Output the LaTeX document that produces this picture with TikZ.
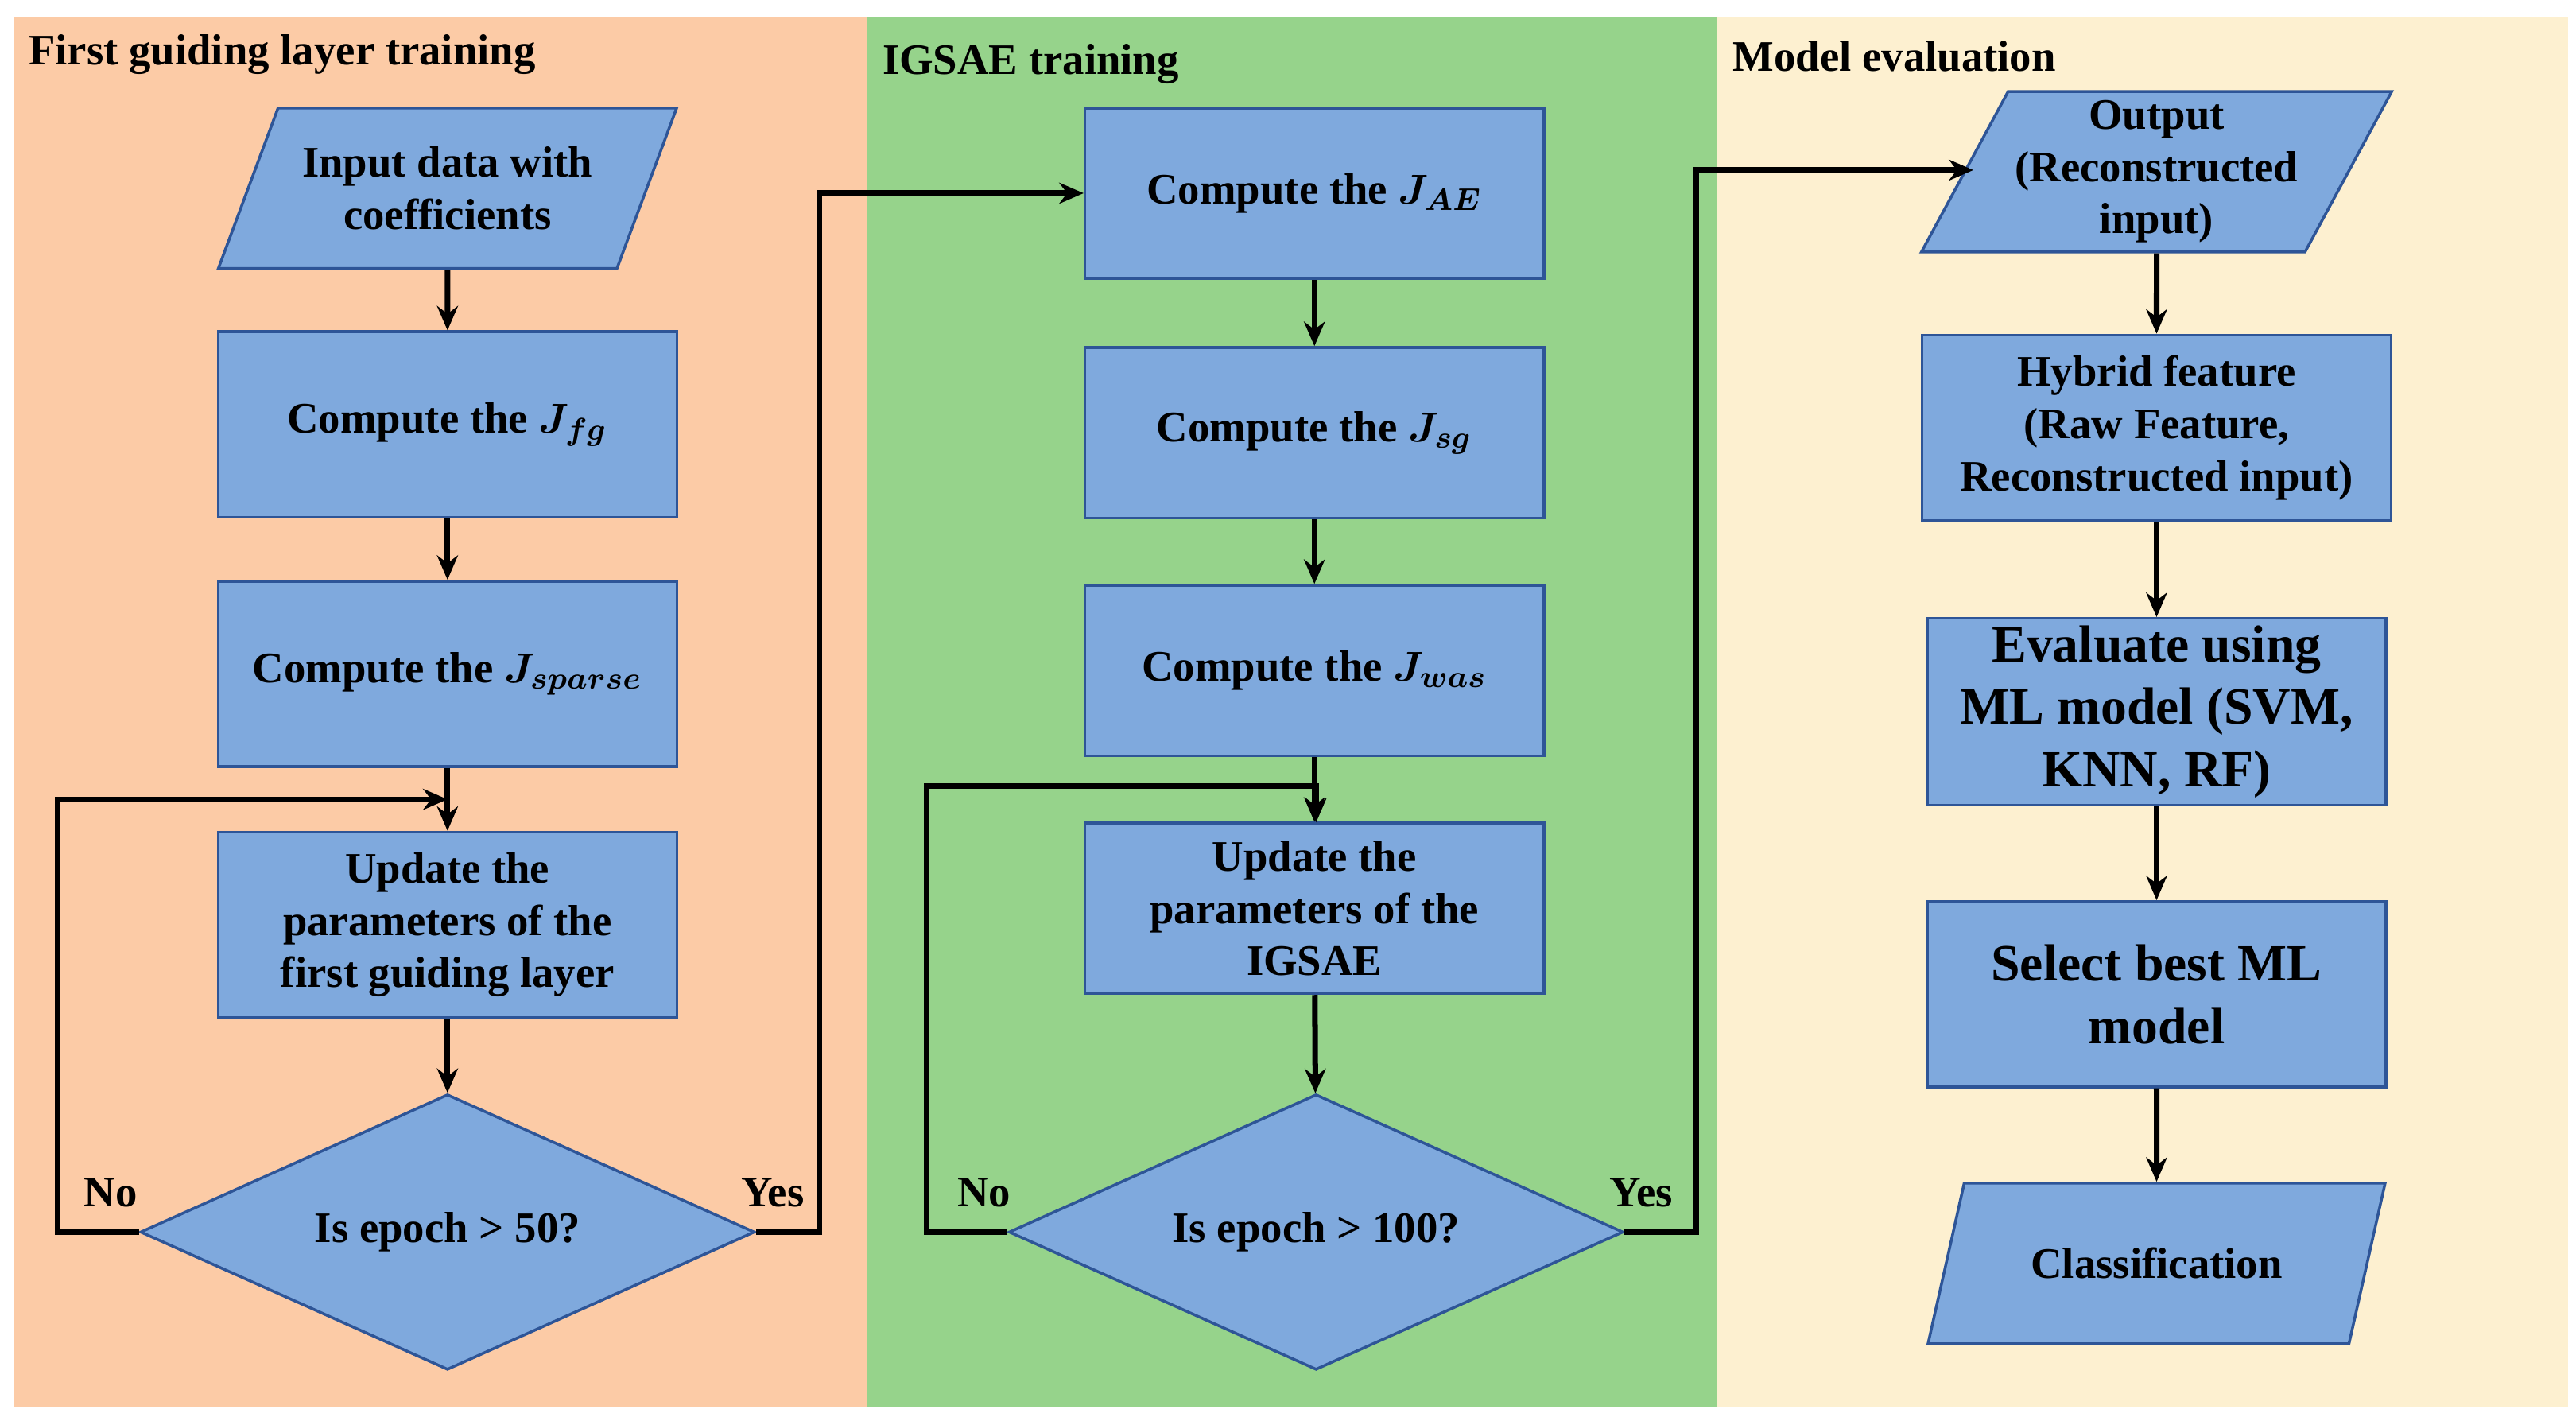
\documentclass[tikz,border=0pt]{standalone}
\usepackage{amsmath}
\usepackage{amssymb}
\usepackage{fontspec}
\setmainfont{Liberation Serif}
\usetikzlibrary{shapes.geometric, arrows.meta, positioning}
\definecolor{boxfill}{HTML}{7FA9DD}
\definecolor{boxline}{HTML}{2E5597}
\definecolor{bgone}{HTML}{FCCBA6}
\definecolor{bgtwo}{HTML}{96D38B}
\definecolor{bgthree}{HTML}{FDF0D0}
\tikzset{
  every box/.style={draw=boxline, fill=boxfill, line width=0.8pt, align=center,
    font=\fontsize{12.5}{15}\selectfont\bfseries\boldmath, inner sep=2pt},
  proc/.style={every box, rectangle, minimum width=4.63cm, minimum height=1.87cm},
  data/.style={every box, trapezium, trapezium left angle=61, trapezium right angle=119,
    trapezium stretches=true, minimum width=4.63cm, minimum height=1.62cm},
  check/.style={every box, diamond, aspect=2.23, inner sep=0pt, minimum width=6.2cm, minimum height=2.78cm},
  flow/.style={-{Stealth[length=7pt,width=6pt]}, line width=1.6pt},
  lbl/.style={font=\fontsize{12.5}{15}\selectfont\bfseries},
  title/.style={font=\fontsize{12.5}{15}\selectfont\bfseries, anchor=west}
}
\begin{document}
\begin{tikzpicture}[x=0.016667cm, y=-0.016667cm]

\useasboundingbox (0,0) rectangle (1560,860);
\fill[white] (0,0) rectangle (1560,860);

% Panels
\fill[bgone] (8,10) rectangle (525,852);
\fill[bgtwo] (525,10) rectangle (1040,852);
\fill[bgthree] (1040,10) rectangle (1555,852);
\node[title] (t1) at (10,33) {First guiding layer training};
\node[title] (t2) at (527,39) {IGSAE training};
\node[title] (t3) at (1042,34) {Model evaluation};

% First guiding layer
\node[data] (in1) at (271,114) {Input data with\\coefficients};
\node[proc] (fg) at (271,257) {Compute the $J_{fg}$};
\node[proc] (sparse) at (271,408) {Compute the $J_{sparse}$};
\node[proc] (upd1) at (271,560) {Update the\\parameters of the\\first guiding layer};
\node[check] (chk1) at (271,746) {Is epoch > 50?};

% IGSAE
\node[proc, minimum height=1.72cm] (ae) at (796,117) {Compute the $J_{AE}$};
\node[proc, minimum height=1.72cm] (sg) at (796,262) {Compute the $J_{sg}$};
\node[proc, minimum height=1.72cm] (was) at (796,406) {Compute the $J_{was}$};
\node[proc, minimum height=1.72cm] (upd2) at (796,550) {Update the\\parameters of the\\IGSAE};
\node[check] (chk2) at (797,746) {Is epoch > 100?};

% Evaluation
\node[data] (out) at (1306,104) {Output\\(Reconstructed\\input)};
\node[proc, minimum width=4.73cm] (hyb) at (1306,259) {Hybrid feature\\(Raw Feature,\\Reconstructed input)};
\node[proc, font=\fontsize{15}{18}\selectfont\bfseries] (eval) at (1306,431) {Evaluate using\\ML model (SVM,\\KNN, RF)};
\node[proc, font=\fontsize{15}{18}\selectfont\bfseries] (sel) at (1306,602) {Select best ML\\model};
\node[data] (cls) at (1306,765) {Classification};

% Connectors
\draw[flow] (in1) -- (fg);
\draw[flow] (fg) -- (sparse);
\draw[flow] (sparse) -- (upd1);
\draw[flow] (upd1) -- (chk1);
\draw[flow] (chk1.west) -- (35,746) -- (35,484) -- (271,484);
\draw[flow] (chk1.east) -- (496,746) -- (496,117) -- (ae.west);
\draw[flow] (ae) -- (sg);
\draw[flow] (sg) -- (was);
\draw[flow] (was) -- (upd2);
\draw[flow] (upd2) -- (chk2);
\draw[flow] (chk2.west) -- (561,746) -- (561,476) -- (797,476) -- (797,498);
\draw[flow] (chk2.east) -- (1027,746) -- (1027,103) -- (1195,103);
\draw[flow] (out) -- (hyb);
\draw[flow] (hyb) -- (eval);
\draw[flow] (eval) -- (sel);
\draw[flow] (sel) -- (cls);

\node[lbl] (no1) at (67,722) {No};
\node[lbl] (yes1) at (468,722) {Yes};
\node[lbl] (no2) at (596,722) {No};
\node[lbl] (yes2) at (994,722) {Yes};

\end{tikzpicture}
\end{document}
